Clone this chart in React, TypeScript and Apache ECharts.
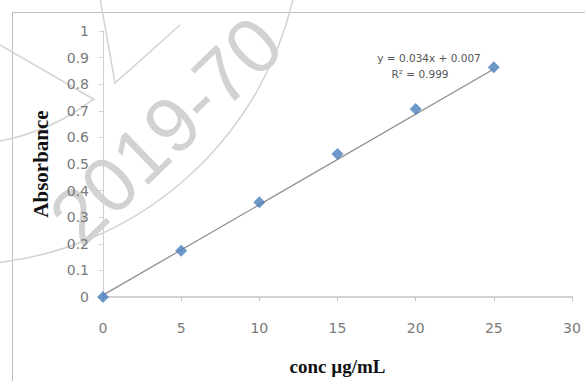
import React, { useEffect, useRef } from "react";
import * as echarts from "echarts";

const concValues = [0, 5, 10, 15, 20, 25];
const absorbanceValues = [0, 0.174, 0.356, 0.538, 0.707, 0.864];
const trendX = [0, 25];
const trendY = [0.007, 0.857];
const xTicks = [0, 5, 10, 15, 20, 25, 30];
const yTicks = [0, 0.1, 0.2, 0.3, 0.4, 0.5, 0.6, 0.7, 0.8, 0.9, 1];
const equationLines = ["y = 0.034x + 0.007", "R² = 0.999"];
const watermarkText = "2019-70";

export default function App() {
  const ref = useRef<HTMLDivElement>(null);
  useEffect(() => {
    if (!ref.current) return;
    const chart = echarts.init(ref.current, null, { renderer: "svg" });
    const labelFont = "'DejaVu Sans', 'Liberation Sans', sans-serif";
    const serifFont = "'Liberation Serif', 'DejaVu Serif', serif";
    const wmColor = "#d2d2d2";
    chart.setOption({
      animation: false,
      backgroundColor: "#ffffff",
      grid: { left: 103, right: 13, top: 31, bottom: 80 },
      xAxis: {
        type: "value",
        min: xTicks[0],
        max: xTicks[xTicks.length - 1],
        interval: 5,
        name: "conc µg/mL",
        nameLocation: "middle",
        nameGap: 60,
        nameTextStyle: {
          fontFamily: serifFont,
          fontWeight: "bold",
          fontSize: 19,
          color: "#111",
        },
        axisLine: { show: true, lineStyle: { color: "#c4c4c4", width: 1.5 } },
        axisTick: { show: true, length: 4, lineStyle: { color: "#c4c4c4" } },
        axisLabel: { color: "#7a7a7a", fontSize: 14, margin: 24, fontFamily: labelFont },
        splitLine: { show: false },
      },
      yAxis: {
        type: "value",
        min: yTicks[0],
        max: yTicks[yTicks.length - 1],
        interval: 0.1,
        name: "Absorbance",
        nameLocation: "middle",
        nameGap: 52,
        nameRotate: 90,
        nameTextStyle: {
          fontFamily: serifFont,
          fontWeight: "bold",
          fontSize: 21,
          color: "#111",
        },
        axisLine: { show: true, lineStyle: { color: "#d0d0d0", width: 1 } },
        axisTick: { show: true, length: 4, lineStyle: { color: "#d0d0d0" } },
        axisLabel: {
          color: "#7a7a7a",
          fontSize: 14,
          margin: 14,
          fontFamily: labelFont,
          formatter: (v: number) => String(Math.round(v * 10) / 10),
        },
        splitLine: { show: false },
      },
      graphic: [
        {
          type: "rect",
          shape: { x: 12.5, y: 12.5, width: 600, height: 400 },
          style: { fill: "none", stroke: "#bdbdbd", lineWidth: 1 },
          silent: true,
          z: -10,
        },
        {
          type: "text",
          x: 90,
          y: 258,
          rotation: (44 * Math.PI) / 180,
          style: {
            text: watermarkText,
            fontSize: 78,
            fontFamily: "'Liberation Sans', sans-serif",
            fill: wmColor,
            textVerticalAlign: "bottom",
          },
          silent: true,
          z: -5,
        },
        {
          type: "arc",
          shape: { cx: -42, cy: -79, r: 344, startAngle: 0.2, endAngle: 1.5 },
          style: { stroke: wmColor, lineWidth: 1.5, fill: "none" },
          silent: true,
          z: -5,
        },
        {
          type: "arc",
          shape: { cx: -42, cy: -79, r: 224, startAngle: 0.92, endAngle: 1.45 },
          style: { stroke: wmColor, lineWidth: 1.5, fill: "none" },
          silent: true,
          z: -5,
        },
        {
          type: "polyline",
          shape: { points: [[0, 45], [95, 100]] },
          style: { stroke: wmColor, lineWidth: 1.5, fill: "none" },
          silent: true,
          z: -5,
        },
        {
          type: "polyline",
          shape: { points: [[100, -2], [115, 83], [180, 25]] },
          style: { stroke: wmColor, lineWidth: 1.5, fill: "none" },
          silent: true,
          z: -5,
        },
        {
          type: "text",
          x: 429,
          y: 58,
          style: {
            text: equationLines[0],
            fontSize: 10.5,
            fontFamily: labelFont,
            fill: "#555",
            textAlign: "center",
            textVerticalAlign: "middle",
          },
        },
        {
          type: "text",
          x: 420,
          y: 74,
          style: {
            text: equationLines[1],
            fontSize: 10.5,
            fontFamily: labelFont,
            fill: "#555",
            textAlign: "center",
            textVerticalAlign: "middle",
          },
        },
      ],
      series: [
        {
          type: "line",
          data: trendX.map((x, i) => [x, trendY[i]]),
          symbol: "none",
          lineStyle: { color: "#8a8a8a", width: 1.2 },
          z: 2,
        },
        {
          type: "scatter",
          data: concValues.map((x, i) => [x, absorbanceValues[i]]),
          symbol: "diamond",
          symbolSize: 12,
          itemStyle: { color: "#4a7ebb" },
          z: 3,
        },
      ],
    });
    return () => chart.dispose();
  }, []);
  return <div ref={ref} style={{ width: 585, height: 381, position: "absolute", left: 0, top: 0 }} />;
}
